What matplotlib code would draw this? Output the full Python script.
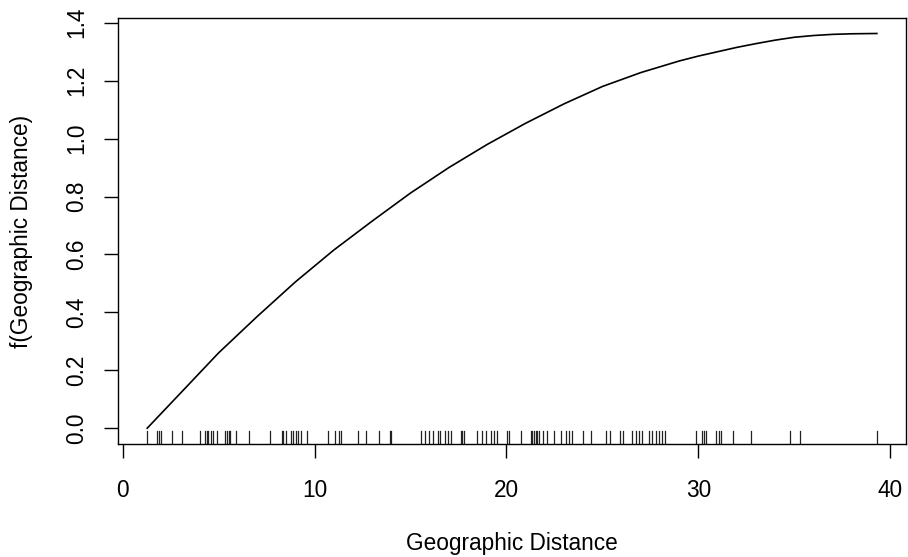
import matplotlib.pyplot as plt

plt.rcParams['font.family'] = ['Liberation Sans', 'DejaVu Sans']

# fitted smooth term
dist = [1.28, 3, 5, 7, 9, 11, 13, 15, 17, 19, 21, 23, 25, 27, 29, 30, 31,
        32, 33, 34, 35, 36, 37, 38, 39.3]
f_dist = [0.0, 0.12, 0.26, 0.385, 0.505, 0.615, 0.715, 0.812, 0.90, 0.98,
          1.053, 1.12, 1.18, 1.228, 1.268, 1.285, 1.300, 1.315, 1.328, 1.340,
          1.350, 1.356, 1.360, 1.362, 1.363]

# observed distances (rug)
rug_x = [1.28, 1.80, 1.89, 2.01, 2.58, 3.09, 4.04, 4.30, 4.39, 4.47, 4.61, 4.73,
         4.92, 5.34, 5.43, 5.52, 5.62, 5.91, 6.61, 7.70, 8.29, 8.38, 8.52, 8.78,
         8.86, 9.04, 9.12, 9.30, 9.62, 10.68, 11.08, 11.26, 11.38, 12.29, 12.68,
         13.34, 13.93, 13.98, 15.54, 15.76, 15.97, 16.18, 16.46, 16.53, 16.79,
         16.93, 17.10, 17.62, 17.71, 17.80, 18.45, 18.71, 18.92, 19.18, 19.35,
         19.53, 20.05, 20.14, 20.78, 21.26, 21.35, 21.44, 21.52, 21.61, 21.70,
         21.92, 22.13, 22.48, 22.82, 23.08, 23.26, 23.43, 24.00, 24.39, 25.17,
         25.39, 25.91, 26.08, 26.55, 26.73, 26.90, 27.07, 27.42, 27.59, 27.77,
         27.94, 28.11, 28.25, 29.88, 30.19, 30.30, 30.40, 30.94, 31.06, 31.17,
         31.79, 32.76, 34.79, 35.31, 39.30]

x_ticks = [0, 10, 20, 30, 40]
y_ticks = [0.0, 0.2, 0.4, 0.6, 0.8, 1.0, 1.2, 1.4]

fig = plt.figure(figsize=(9.08, 5.57), dpi=100)
ax = fig.add_axes([118 / 908, 1 - 444 / 557, (906 - 118) / 908, (444 - 18) / 557])

ax.plot(dist, f_dist, color='black', lw=1.2)
for v in rug_x:
    ax.axvline(v, ymin=0, ymax=0.03, color='#222222', lw=0.9)

ax.set_xlim(-0.24, 40.82)
ax.set_ylim(-0.0545, 1.4165)
ax.set_xticks(x_ticks)
ax.set_xticklabels([str(t) for t in x_ticks])
ax.set_yticks(y_ticks)
ax.set_yticklabels(['%.1f' % t for t in y_ticks], rotation=90, va='center')

for s in ax.spines.values():
    s.set_linewidth(1.0)
ax.tick_params(direction='out', length=10, width=1.0, labelsize=16.3, colors='black')
ax.tick_params(axis='x', pad=15)
ax.tick_params(axis='y', pad=11.7)

ax.set_xlabel('Geographic Distance', fontsize=16.3, labelpad=21.5)
ax.set_ylabel('f(Geographic Distance)', fontsize=16.3, labelpad=23)

fig.savefig('out.png', dpi=100)
